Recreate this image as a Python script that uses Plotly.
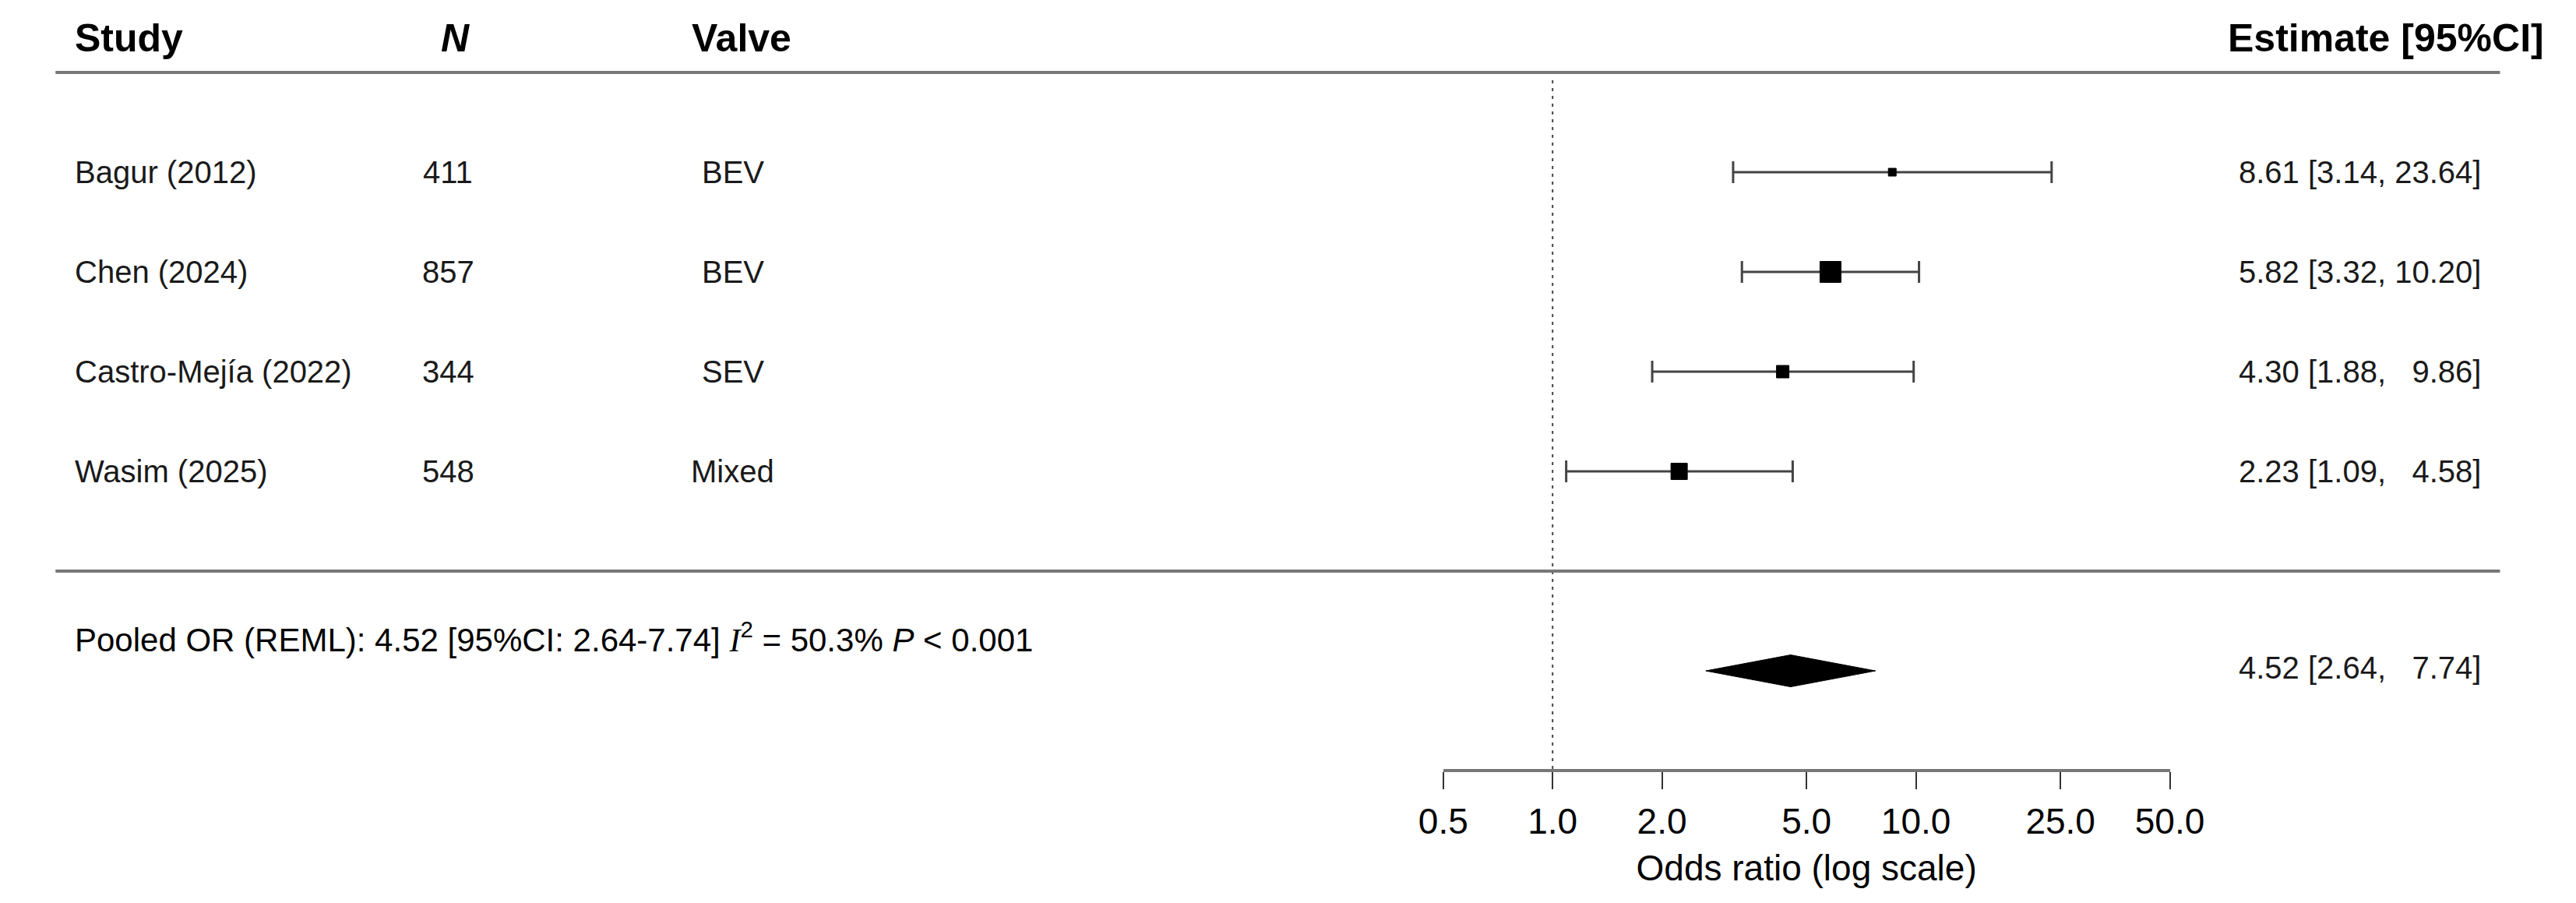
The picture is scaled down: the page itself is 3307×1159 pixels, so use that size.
"""Forest plot: odds ratios per study with pooled REML estimate."""

import math

import plotly.graph_objects as go

# ---- data ----
studies = ["Bagur (2012)", "Chen (2024)", "Castro-Mejía (2022)", "Wasim (2025)"]
sample_sizes = [411, 857, 344, 548]
valves = ["BEV", "BEV", "SEV", "Mixed"]
odds_ratios = [8.61, 5.82, 4.30, 2.23]
ci_lower = [3.14, 3.32, 1.88, 1.09]
ci_upper = [23.64, 10.20, 9.86, 4.58]

pooled_or = 4.52
pooled_lower = 2.64
pooled_upper = 7.74
pooled_i2 = 50.3
pooled_p_text = "< 0.001"

tick_values = [0.5, 1, 2, 5, 10, 25, 50]
tick_labels = ["0.5", "1.0", "2.0", "5.0", "10.0", "25.0", "50.0"]

# ---- styling ----
W, H = 3307, 1159
BOTTOM = 180
Y_RANGE = [-0.984, 6.664]  # row units, 128 px per row
BOX_PX = [10, 27, 16, 21]  # square side per study (weight proxy)
DIAMOND_HALF = 0.16
RULE_COLOR = "#777777"
BAR_COLOR = "#444444"
SANS = "Liberation Sans, Arial, sans-serif"
row_font = dict(family=SANS, size=40, color="#1a1a1a")
head_font = dict(family=SANS, size=50, color="black")


def px(x_pixel):
    """Pixel column -> paper x (no left/right margin)."""
    return x_pixel / W


n_rows = len(studies)
row_y = [n_rows + 1 - i for i in range(n_rows)]  # 5, 4, 3, 2

fig = go.Figure()

# CI whiskers (drawn first so the squares sit on top)
fig.add_trace(go.Scatter(
    x=odds_ratios,
    y=row_y,
    mode="markers",
    marker=dict(size=1, color="rgba(0,0,0,0)"),
    error_x=dict(
        type="data",
        symmetric=False,
        array=[hi - est for hi, est in zip(ci_upper, odds_ratios)],
        arrayminus=[est - lo for est, lo in zip(odds_ratios, ci_lower)],
        color=BAR_COLOR,
        thickness=3,
        width=14,
    ),
    hoverinfo="skip",
    showlegend=False,
))

# Study point estimates
fig.add_trace(go.Scatter(
    x=odds_ratios,
    y=row_y,
    mode="markers",
    marker=dict(symbol="square", size=BOX_PX, color="black", opacity=1,
                line=dict(color="black", width=1)),
    hovertemplate="OR %{x:.2f}<extra></extra>",
    showlegend=False,
))

# Pooled diamond
fig.add_trace(go.Scatter(
    x=[pooled_lower, pooled_or, pooled_upper, pooled_or, pooled_lower],
    y=[0, DIAMOND_HALF, 0, -DIAMOND_HALF, 0],
    mode="lines",
    fill="toself",
    fillcolor="black",
    line=dict(color="black", width=1),
    hoverinfo="skip",
    showlegend=False,
))

# Reference line at OR = 1 and the two table rules
fig.add_shape(type="line", xref="x", yref="y", x0=1, x1=1, y0=Y_RANGE[0], y1=5.93,
              line=dict(color="#444444", width=2, dash="4px,6px"))
for rule_y in (6, 1):
    fig.add_shape(type="line", xref="paper", yref="y", x0=px(32), x1=px(3245),
                  y0=rule_y, y1=rule_y, line=dict(color=RULE_COLOR, width=4))

annotations = []


def add_text(text, x_pixel, y, anchor, font):
    annotations.append(dict(text=text, x=px(x_pixel), y=y, xref="paper", yref="y",
                            xanchor=anchor, yanchor="middle", showarrow=False, font=font))


# Header row
head_y = 6.34
add_text("<b>Study</b>", 55, head_y, "left", head_font)
add_text("<b><i>N</i></b>", 557, head_y, "center", head_font)
add_text("<b>Valve</b>", 866, head_y, "left", head_font)
add_text("<b>Estimate [95%CI]</b>", 3305, head_y, "right", head_font)

# Study rows
for i in range(n_rows):
    y = row_y[i]
    add_text(studies[i], 55, y, "left", row_font)
    add_text(str(sample_sizes[i]), 548, y, "center", row_font)
    add_text(valves[i], 922, y, "center", row_font)
    upper = f"{ci_upper[i]:>5.2f}".replace(" ", "\u00a0\u00a0")
    est = f"{odds_ratios[i]:.2f} [{ci_lower[i]:.2f}, {upper}]"
    add_text(est, 3222, y, "right", row_font)

# Pooled row
pooled_upper_txt = f"{pooled_upper:>5.2f}".replace(" ", "\u00a0\u00a0")
add_text(f"{pooled_or:.2f} [{pooled_lower:.2f}, {pooled_upper_txt}]", 3222, 0.03, "right", row_font)
summary = (
    f"Pooled OR (REML): {pooled_or:.2f} [95%CI: {pooled_lower:.2f}-{pooled_upper:.2f}] "
    f"<span style='font-family:Liberation Serif'><i>I</i></span><sup>2</sup> = {pooled_i2:.1f}% "
    f"<i>P</i> {pooled_p_text}"
)
add_text(summary, 55, 0.34, "left", dict(family=SANS, size=42, color="black"))

fig.update_layout(
    width=W,
    height=H,
    margin=dict(l=0, r=0, t=0, b=BOTTOM),
    paper_bgcolor="white",
    plot_bgcolor="white",
    showlegend=False,
    annotations=annotations,
    xaxis=dict(
        type="log",
        domain=[px(1856), px(2811)],
        range=[math.log10(0.5), math.log10(50)],
        tickvals=tick_values,
        ticktext=tick_labels,
        ticks="outside",
        ticklen=22,
        tickwidth=2,
        tickcolor="#333333",
        showline=True,
        linecolor=RULE_COLOR,
        linewidth=4,
        showgrid=False,
        zeroline=False,
        tickfont=dict(family=SANS, size=46, color="black"),
        ticklabelstandoff=2,
        title=dict(text="Odds ratio (log scale)", standoff=20,
                   font=dict(family=SANS, size=46, color="black")),
    ),
    yaxis=dict(
        range=Y_RANGE,
        visible=False,
        showgrid=False,
        zeroline=False,
    ),
)

fig.write_html("out.html")
